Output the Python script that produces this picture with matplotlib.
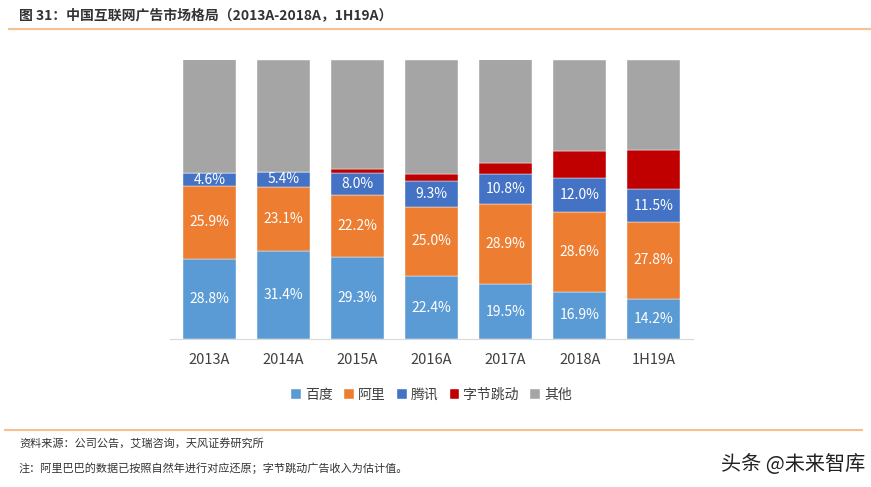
import matplotlib
matplotlib.use("Agg")
import matplotlib.pyplot as plt
import numpy as np

plt.rcParams["font.family"] = ["Noto Sans CJK SC", "DejaVu Sans"]

categories = ["2013A", "2014A", "2015A", "2016A", "2017A", "2018A", "1H19A"]
baidu     = [28.8, 31.4, 29.3, 22.4, 19.5, 16.9, 14.2]
ali       = [25.9, 23.1, 22.2, 25.0, 28.9, 28.6, 27.8]
tencent   = [4.6, 5.4, 8.0, 9.3, 10.8, 12.0, 11.5]
bytedance = [0.0, 0.0, 1.5, 2.5, 3.9, 9.6, 14.2]   # estimated, unlabeled
series_names = ["百度", "阿里", "腾讯", "字节跳动", "其他"]

others = [100 - a - b - c - d for a, b, c, d in zip(baidu, ali, tencent, bytedance)]

COLORS = ["#5B9BD5", "#ED7D31", "#4472C4", "#C00000", "#A5A5A5"]
TEXT = "#404040"
LINE_C = "#F8C08E"

fig = plt.figure(figsize=(8.71, 4.87), dpi=100, facecolor="white")
ax = fig.add_axes([170 / 871, 148 / 487, 523 / 871, 279.5 / 487])

x = np.arange(len(categories))
bottom = np.zeros(len(categories))
labelled = [True, True, True, False, False]
for vals, name, col, lab in zip([baidu, ali, tencent, bytedance, others],
                                series_names, COLORS, labelled):
    vals = np.array(vals)
    ax.bar(x, vals, bottom=bottom, width=0.72, color=col, label=name,
           edgecolor="white", linewidth=0.3)
    if lab:
        for xi, b, v in zip(x, bottom, vals):
            ax.text(xi, b + v / 2, f"{v:.1f}%", ha="center", va="center",
                    color="white", fontsize=10)
    bottom += vals

ax.set_xlim(-0.53, len(categories) - 0.47)
ax.set_ylim(0, 100)
ax.set_xticks(x)
ax.set_xticklabels(categories, fontsize=10.5, color=TEXT)
ax.tick_params(axis="x", length=0, pad=10)
ax.set_yticks([])
for s in ["top", "right", "left"]:
    ax.spines[s].set_visible(False)
ax.spines["bottom"].set_color("#D9D9D9")

ax.legend(loc="upper center", bbox_to_anchor=(0.5, -0.13), ncol=5,
          frameon=False, fontsize=10, handlelength=0.7, handleheight=0.7,
          handletextpad=0.3, columnspacing=0.8, labelcolor=TEXT)

# header / footer
fig.text(19 / 871, 1 - 15 / 487, "图 31：中国互联网广告市场格局（2013A-2018A，1H19A）",
         fontsize=10, color="#333333", fontweight="bold", va="center")
fig.add_artist(plt.Line2D([9 / 871, 1], [1 - 29 / 487] * 2, color=LINE_C, lw=1.5))
fig.add_artist(plt.Line2D([5 / 871, 862 / 871], [1 - 430 / 487] * 2, color=LINE_C, lw=1.5))
fig.text(19 / 871, 1 - 443 / 487, "资料来源：公司公告，艾瑞咨询，天风证券研究所",
         fontsize=8, color="#333333", va="center")
fig.text(19 / 871, 1 - 468 / 487,
         "注：阿里巴巴的数据已按照自然年进行对应还原；字节跳动广告收入为估计值。",
         fontsize=8, color="#333333", va="center")
fig.text(865 / 871, 1 - 464 / 487, "头条 @未来智库", fontsize=14.5, color="#222222",
         ha="right", va="center")

fig.savefig("out.png", dpi=100, facecolor="white")
